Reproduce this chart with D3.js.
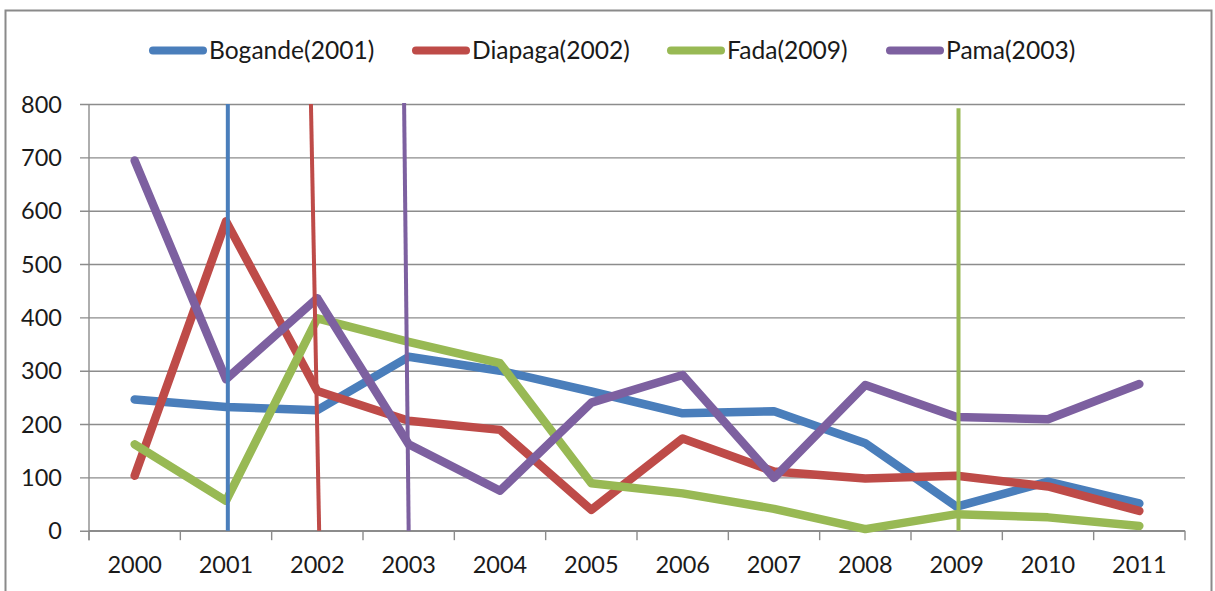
<!DOCTYPE html>
<html>
<head>
<meta charset="utf-8">
<script src="https://cdn.jsdelivr.net/npm/d3@7"></script>
<style>
  html, body { margin: 0; padding: 0; background: #fff; }
  svg { display: block; }
  text { font-family: Lato, "Open Sans", sans-serif; fill: #1a1a1a; }
</style>
</head>
<body>
<svg id="chart" width="1215" height="591"></svg>
<script>
// ---- data ----
const years = ["2000","2001","2002","2003","2004","2005","2006","2007","2008","2009","2010","2011"];
const yTicks = [0, 100, 200, 300, 400, 500, 600, 700, 800];
const seriesNames = ["Bogande(2001)", "Diapaga(2002)", "Fada(2009)", "Pama(2003)"];
const bogande = [246, 232, 226, 326, 300, 261, 220, 224, 164, 45, 92, 51];
const diapaga = [103, 580, 262, 206, 189, 39, 173, 111, 98, 103, 83, 37];
const fada    = [162, 56, 398, 354, 314, 89, 70, 41, 3, 31, 25, 9];
const pama    = [694, 284, 436, 162, 75, 240, 292, 99, 273, 213, 209, 275];
// marker lines: series index, year position of top and bottom ends, value range
const markerSeries     = [0, 1, 3, 2];
const markerTopYear    = [2001.02, 2001.93, 2002.95, 2009.02];
const markerBottomYear = [2001.02, 2002.02, 2003.00, 2009.02];
const markerTopValue   = [800, 800, 802, 792];
const markerBottomValue= [0, 0, 0, 0];
const colors = ["#4A7EBB", "#BE4B48", "#98B954", "#7D60A0"];

(function () {
// ---- layout ----
const svg = d3.select("#chart");
const pLeft = 89, pRight = 1185, pTop = 104, pBottom = 530.7;

const x = d3.scaleBand().domain(years).range([pLeft, pRight]);
const xc = d => x(d) + x.bandwidth() / 2;
const xYear = d3.scaleLinear().domain([1999.5, 2011.5]).range([pLeft, pRight]);
const y = d3.scaleLinear().domain([0, 800]).range([pBottom, pTop]);

// outer border
svg.append("rect")
  .attr("x", 5.5).attr("y", 10.5).attr("width", 1206).attr("height", 600)
  .attr("fill", "none").attr("stroke", "#8a8a8a").attr("stroke-width", 2);

// gridlines + y axis
const yAxis = d3.axisLeft(y).tickValues(yTicks).tickSize(-(pRight - pLeft)).tickPadding(0);
const gy = svg.append("g").attr("transform", `translate(${pLeft},0)`).call(yAxis);
gy.select(".domain").remove();
gy.selectAll(".tick line")
  .attr("x1", -9).attr("x2", pRight - pLeft)
  .attr("stroke", "#8c8c8c").attr("stroke-width", 1.4);
gy.selectAll(".tick text")
  .attr("x", -27).attr("dy", "0.34em")
  .style("font-size", "23.5px").style("font-family", "Lato, sans-serif").attr("fill", "#1a1a1a");

// y axis line
svg.append("line")
  .attr("x1", pLeft).attr("x2", pLeft).attr("y1", pTop).attr("y2", pBottom + 9.5)
  .attr("stroke", "#8c8c8c").attr("stroke-width", 1.4);

// x axis
const xAxis = d3.axisBottom(x).tickSize(0).tickPadding(0);
const gx = svg.append("g").attr("transform", `translate(0,${pBottom})`).call(xAxis);
gx.select(".domain").attr("stroke", "#8c8c8c").attr("stroke-width", 1.4)
  .attr("d", `M${pLeft},0H${pRight}`);
gx.selectAll(".tick line").remove();
gx.selectAll(".tick text")
  .attr("y", 42).attr("dy", 0)
  .style("font-size", "23.5px").style("font-family", "Lato, sans-serif").attr("fill", "#1a1a1a");
// boundary tick marks
const boundaries = d3.range(years.length + 1).map(i => 1999.5 + i);
svg.append("g").selectAll("line").data(boundaries).join("line")
  .attr("x1", d => xYear(d)).attr("x2", d => xYear(d))
  .attr("y1", pBottom).attr("y2", pBottom + 9.5)
  .attr("stroke", "#8c8c8c").attr("stroke-width", 1.4);

// series lines
const allSeries = [bogande, diapaga, fada, pama];
const line = d3.line().x((d, i) => xc(years[i])).y(d => y(d));
svg.append("g").selectAll("path").data(allSeries).join("path")
  .attr("d", d => line(d))
  .attr("fill", "none")
  .attr("stroke", (d, i) => colors[i])
  .attr("stroke-width", 8.5)
  .attr("stroke-linejoin", "round")
  .attr("stroke-linecap", "round");

// marker vertical lines
svg.append("g").selectAll("line").data(d3.range(markerSeries.length)).join("line")
  .attr("x1", i => xYear(markerTopYear[i]))
  .attr("x2", i => xYear(markerBottomYear[i]))
  .attr("y1", i => y(markerTopValue[i]))
  .attr("y2", i => y(markerBottomValue[i]))
  .attr("stroke", i => colors[markerSeries[i]])
  .attr("stroke-width", 4);

// legend
const legendX = [153, 416, 671, 890];
const lg = svg.append("g").selectAll("g").data(seriesNames).join("g")
  .attr("transform", (d, i) => `translate(${legendX[i]},50.5)`);
lg.append("line")
  .attr("x1", 0).attr("x2", 50).attr("y1", 0).attr("y2", 0)
  .attr("stroke", (d, i) => colors[i]).attr("stroke-width", 8).attr("stroke-linecap", "round");
lg.append("text")
  .attr("x", 56).attr("y", 8.5)
  .style("font-size", "24.6px")
  .text(d => d);
})();
</script>
</body>
</html>
